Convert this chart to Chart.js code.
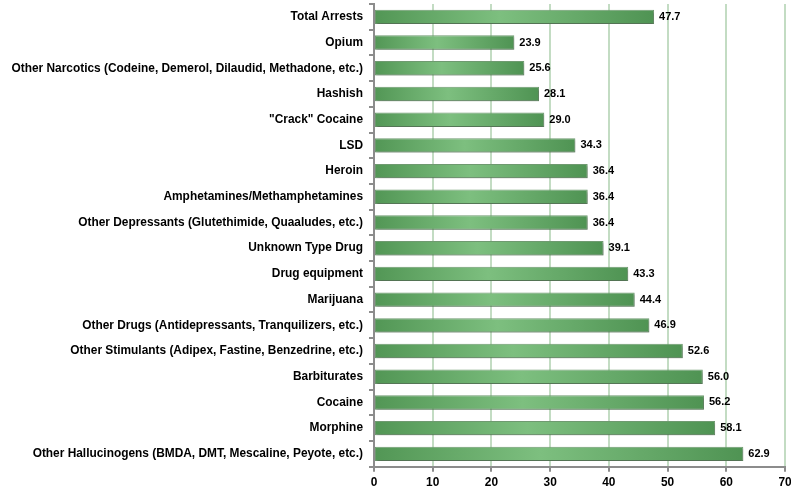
<!DOCTYPE html>
<html>
<head>
<meta charset="utf-8">
<script src="https://cdn.jsdelivr.net/npm/chart.js@4"></script>
<style>
  html, body { margin: 0; padding: 0; background: #fff; }
  #wrap { width: 791px; height: 497px; }
</style>
</head>
<body>
<div id="wrap"><canvas id="arrests"></canvas></div>
<script>
const drugLabels = [
    "Total Arrests",
    "Opium",
    "Other Narcotics (Codeine, Demerol, Dilaudid, Methadone, etc.)",
    "Hashish",
    "\"Crack\" Cocaine",
    "LSD",
    "Heroin",
    "Amphetamines/Methamphetamines",
    "Other Depressants (Glutethimide, Quaaludes, etc.)",
    "Unknown Type Drug",
    "Drug equipment",
    "Marijuana",
    "Other Drugs (Antidepressants, Tranquilizers, etc.)",
    "Other Stimulants (Adipex, Fastine, Benzedrine, etc.)",
    "Barbiturates",
    "Cocaine",
    "Morphine",
    "Other Hallucinogens (BMDA, DMT, Mescaline, Peyote, etc.)"
]
const drugValues = [47.7, 23.9, 25.6, 28.1, 29.0, 34.3, 36.4, 36.4, 36.4, 39.1, 43.3, 44.4, 46.9, 52.6, 56.0, 56.2, 58.1, 62.9]
const xTicks = [0, 10, 20, 30, 40, 50, 60, 70]

const labelFont = { family: "'Liberation Sans', Arial, sans-serif", size: 11.9, weight: "bold" }

// bar fill: darker at both ends, lighter in the middle
function barGradient(context) {
    const chart = context.chart
    if (!chart.chartArea) return "#5fa463"
    const xs = chart.scales.x
    const x0 = xs.getPixelForValue(0)
    const x1 = xs.getPixelForValue(context.raw)
    const g = chart.ctx.createLinearGradient(x0, 0, x1, 0)
    g.addColorStop(0, "#529655")
    g.addColorStop(0.45, "#7dbf7f")
    g.addColorStop(1, "#4f9353")
    return g
}

const shadowPlugin = {
    id: "barShadow",
    beforeDatasetsDraw(chart) {
        const c = chart.ctx
        c.save()
        c.shadowColor = "rgba(0,0,0,0.25)"
        c.shadowOffsetX = 1
        c.shadowOffsetY = 2
        c.shadowBlur = 2
    },
    afterDatasetsDraw(chart) {
        chart.ctx.restore()
    }
}

const valueLabels = {
    id: "valueLabels",
    afterDatasetsDraw(chart) {
        const c = chart.ctx
        const meta = chart.getDatasetMeta(0)
        c.save()
        c.font = "bold 11px 'Liberation Sans', Arial, sans-serif"
        c.fillStyle = "#000"
        c.textAlign = "left"
        c.textBaseline = "middle"
        meta.data.forEach((bar, i) => {
            c.fillText(drugValues[i].toFixed(1), bar.x + 5, bar.y)
        })
        c.restore()
    }
}

const arrestsChart = new Chart(document.getElementById("arrests"), {
    type: "bar",
    data: {
        labels: drugLabels,
        datasets: [{
            data: drugValues,
            backgroundColor: barGradient,
            borderColor: "#6f9a70",
            borderWidth: 1,
            borderSkipped: false,
            categoryPercentage: 1,
            barPercentage: 0.56
        }]
    },
    options: {
        indexAxis: "y",
        responsive: true,
        maintainAspectRatio: false,
        animation: false,
        layout: { padding: { top: 4, right: 6, left: 0, bottom: 3 } },
        plugins: {
            legend: { display: false },
            tooltip: { enabled: false }
        },
        scales: {
            x: {
                min: 0,
                max: 70,
                afterBuildTicks: axis => { axis.ticks = xTicks.map(v => ({ value: v })) },
                afterFit: axis => { axis.paddingLeft = 0; axis.paddingRight = 0 },
                grid: {
                    color: "#c3dcc3",
                    lineWidth: 2,
                    tickColor: "#8c8c8c",
                    tickLength: 5
                },
                border: { color: "#8c8c8c", width: 2 },
                ticks: { color: "#000", font: labelFont, padding: 4 }
            },
            y: {
                afterFit: axis => { axis.width = 374; axis.paddingTop = 0; axis.paddingBottom = 0 },
                grid: {
                    offset: true,
                    drawOnChartArea: false,
                    tickColor: "#8c8c8c",
                    tickLength: 5,
                    lineWidth: 2
                },
                border: { color: "#8c8c8c", width: 2 },
                ticks: { color: "#000", font: labelFont, padding: 6, autoSkip: false }
            }
        }
    },
    plugins: [shadowPlugin, valueLabels]
})
</script>
</body>
</html>
